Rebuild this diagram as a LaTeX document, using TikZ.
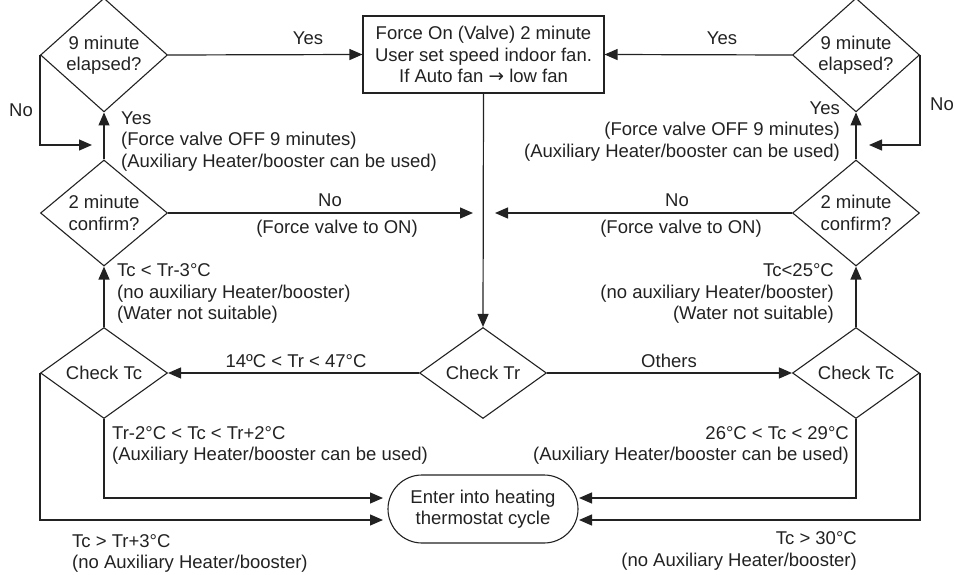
\documentclass[tikz,border=0pt]{standalone}
\usepackage{fontspec}
\setmainfont{Liberation Sans}
\newfontfamily\arrowfont{DejaVu Sans}
\usetikzlibrary{shapes.geometric,arrows.meta}
\definecolor{ink}{HTML}{222222}
\begin{document}
\begin{tikzpicture}[x=1pt,y=-1pt,
  every node/.style={font=\fontsize{18.5}{21.5}\selectfont, text=ink},
  decision/.style={diamond, draw=ink, line width=1.1pt, inner sep=0pt,
    minimum width=127pt, minimum height=91pt, align=center},
  process/.style={rectangle, draw=ink, line width=1.1pt, inner sep=0pt,
    minimum width=241pt, minimum height=77pt, align=center},
  terminal/.style={rectangle, rounded corners=34pt, draw=ink, line width=1.1pt,
    inner sep=0pt, minimum width=190pt, minimum height=68pt, align=center},
  flow/.style={draw=ink, line width=1.2pt, -{Triangle[length=13pt,width=11pt]}},
  lab/.style={inner sep=0pt},
  labl/.style={inner sep=0pt, anchor=west, align=left},
  labr/.style={inner sep=0pt, anchor=east, align=right}]
\useasboundingbox (0,0) rectangle (954,575);

% decisions
\node[decision] (e9L) at (104,55) {9 minute\\elapsed?};
\node[decision] (c2L) at (104,213) {2 minute\\confirm?};
\node[decision] (tcL) at (104,373) {Check Tc};
\node[decision] (tr)  at (483,373) {Check Tr};
\node[decision] (tcR) at (856,373) {Check Tc};
\node[decision] (c2R) at (856,213) {2 minute\\confirm?};
\node[decision] (e9R) at (856,55) {9 minute\\elapsed?};

% process and terminal
\node[process] (force) at (483.5,54.5) {Force On (Valve) 2 minute\\User set speed indoor fan.\\If Auto fan {\arrowfont →} low fan};
\node[terminal] (term) at (483,509) {Enter into heating\\thermostat cycle};

% free arrow ends
\coordinate (nL) at (92,145);
\coordinate (nR) at (869,145);
\coordinate (mL) at (473,213);
\coordinate (mR) at (495,213);
\coordinate (tA) at (383,498);
\coordinate (tB) at (383,520);
\coordinate (tC) at (579,498);
\coordinate (tD) at (579,520);

% connectors
\draw[flow] (e9L.east) -- (force.west);
\draw[flow] (e9R.west) -- (force.east);
\draw[flow] (e9L.west) |- (nL);
\draw[flow] (e9R.east) |- (nR);
\draw[flow] (c2L.north) -- (e9L.south);
\draw[flow] (c2R.north) -- (e9R.south);
\draw[flow] (c2L.east) -- (mL);
\draw[flow] (c2R.west) -- (mR);
\draw[flow] (force.south) -- (tr.north);
\draw[flow] (tr.west) -- (tcL.east);
\draw[flow] (tr.east) -- (tcR.west);
\draw[flow] (tcL.north) -- (c2L.south);
\draw[flow] (tcR.north) -- (c2R.south);
\draw[flow] (tcL.south) |- (tA);
\draw[flow] (tcL.west) |- (tB);
\draw[flow] (tcR.south) |- (tC);
\draw[flow] (tcR.east) |- (tD);

% connector labels
\node[lab] (yesL) at (308,38) {Yes};
\node[lab] (yesR) at (722,38) {Yes};
\node[lab] (noL) at (21,110) {No};
\node[lab] (noR) at (942,104) {No};
\node[labl] (offL) at (121,141.5) {Yes\\(Force valve OFF 9 minutes)\\(Auxiliary Heater/booster can be used)};
\node[labr] (offR) at (840,131.5) {Yes\\(Force valve OFF 9 minutes)\\(Auxiliary Heater/booster can be used)};
\node[lab] (noML) at (330,200) {No};
\node[lab] (onL) at (337,229) {(Force valve to ON)};
\node[lab] (noMR) at (677,200) {No};
\node[lab] (onR) at (681,229) {(Force valve to ON)};
\node[labl] (lowL) at (117,293.5) {Tc < Tr-3°C\\(no auxiliary Heater/booster)\\(Water not suitable)};
\node[labr] (lowR) at (834,293.5) {Tc<25°C\\(no auxiliary Heater/booster)\\(Water not suitable)};
\node[lab] (rangeTr) at (296,361) {14ºC < Tr < 47°C};
\node[lab] (others) at (669,361) {Others};
\node[labl] (midL) at (112,445.5) {Tr-2°C < Tc < Tr+2°C\\(Auxiliary Heater/booster can be used)};
\node[labr] (midR) at (849,445.5) {26°C < Tc < 29°C\\(Auxiliary Heater/booster can be used)};
\node[labl] (hiL) at (72,553.5) {Tc > Tr+3°C\\(no Auxiliary Heater/booster)};
\node[labr] (hiR) at (857,551) {Tc > 30°C\\(no Auxiliary Heater/booster)};
\end{tikzpicture}
\end{document}
